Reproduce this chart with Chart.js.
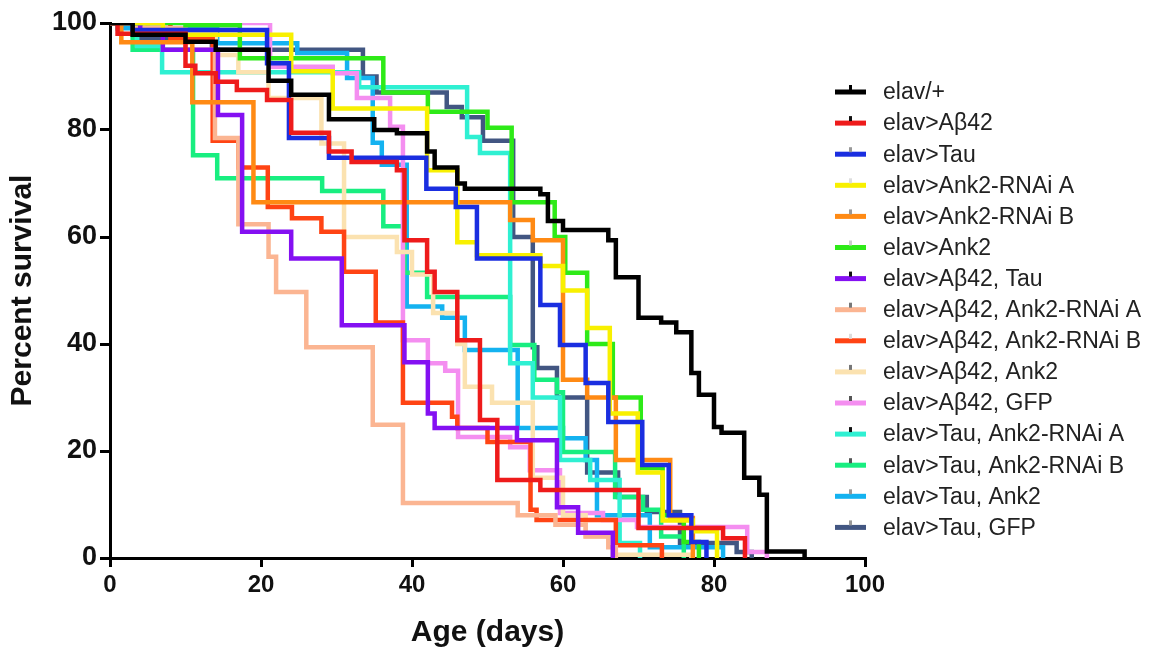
<!DOCTYPE html>
<html>
<head>
<meta charset="utf-8">
<title>Survival</title>
<script src="https://cdn.jsdelivr.net/npm/chart.js@4.4.1/dist/chart.umd.min.js"></script>
<style>
  body { margin: 0; background: #fff; }
  #wrap { width: 1154px; height: 653px; position: relative; }
</style>
</head>
<body>
<div id="wrap"><canvas id="survivalChart"></canvas></div>
<script>
// Kaplan-Meier curves: age (days) where survival drops, and % survival from that age on
const elavAge = [0, 3, 10, 14, 21, 24, 29, 35, 38, 42, 43, 46, 47, 57, 58, 60, 66, 67, 70, 73, 75, 77, 78, 80, 81, 84, 86, 87, 92];
const elavPct = [100, 97.8, 96.5, 95, 89.2, 86.6, 82, 80, 79.4, 76, 73, 70, 69, 68, 63, 61.3, 59.4, 52.5, 44.9, 44, 42.2, 34.6, 30.5, 24.5, 23.4, 15, 11.8, 1.2, 0];

const abAge = [0, 1, 10, 11.3, 14, 16.8, 20.8, 24, 29, 32, 38, 39, 42, 43, 46, 49, 51.3, 57, 70, 81.2, 84.1];
const abPct = [100, 98, 92, 90.6, 89, 87.5, 85.6, 79.5, 76, 74, 72.5, 59.4, 53.5, 49.7, 40.7, 25.8, 14.6, 12.7, 5.6, 3.7, 0];

const tauAge = [0, 3, 20.8, 23.7, 29, 41.9, 45.8, 48.6, 57, 59.6, 63, 66, 70.5, 74, 77, 79];
const tauPct = [100, 98.7, 92.5, 78.5, 74.8, 69, 65.6, 56, 47.3, 39.8, 32.7, 25.4, 17.4, 8, 3, 0];

const rnaiAAge = [0, 7, 24, 29.5, 42, 46, 48.6, 57, 60, 63.2, 66.2, 69.9, 73.2, 77.2, 80.4];
const rnaiAPct = [100, 97.8, 91, 84, 72.5, 59, 56.6, 54.6, 50, 43, 27, 16, 7, 5, 0];

const rnaiBAge = [0, 1.5, 10.9, 19, 53, 56, 60, 63.2, 67, 74.2, 77.2];
const rnaiBPct = [100, 96.4, 85.2, 66.5, 63.2, 59.4, 33.3, 30, 18.3, 7.5, 0];

const ank2Age = [0, 10, 17.2, 36.2, 42.1, 50, 53.2, 58.9, 60.3, 63.2, 66.6, 70.3, 73.2, 76, 78];
const ank2Pct = [100, 99.6, 93.4, 87, 83.4, 80.4, 66.5, 60, 53.3, 40, 30, 16.8, 8, 3, 0];

const abTauAge = [0, 4, 7, 14.3, 17.5, 24, 30.7, 39, 42.1, 43, 53.9, 59.2, 62, 66.6];
const abTauPct = [100, 98, 95, 82.8, 61, 56, 43.5, 36.6, 27, 24.3, 22, 9.5, 4.7, 0];

const abRnaiAAge = [0, 3, 10, 13.9, 17, 21, 22, 26, 34.8, 38.8, 54, 59, 63, 66, 67];
const abRnaiAPct = [100, 99, 95, 78.5, 62.4, 56.3, 49.7, 39.4, 24.9, 10.3, 8, 6.2, 4, 2, 0];

const abRnaiBAge = [0, 8, 13.6, 17, 20.9, 24.1, 28, 31, 35.2, 38.8, 45.3, 46, 50, 55.7, 56.5, 67, 73.1];
const abRnaiBPct = [100, 97, 78, 73, 65.6, 63.5, 61, 53.5, 44, 29, 26.4, 24.3, 21.7, 9, 7.1, 2.4, 0];

const abAnk2Age = [0, 5, 14, 17, 21, 28, 31, 38, 40, 42.8, 46, 47, 50.6, 56, 60, 63, 66.6, 77];
const abAnk2Pct = [100, 98, 94, 90.8, 86, 77.5, 60, 57.2, 53, 45.8, 40, 32, 29, 15, 8, 4, 0.6, 0];

const abGfpAge = [0, 21.2, 29.5, 32.7, 37.1, 38.8, 42.1, 44.4, 46.1, 53, 55.6, 59.6, 65.3, 69.8, 84.4, 87];
const abGfpPct = [100, 91.8, 90.6, 86, 80.6, 40.7, 36.4, 35, 22.6, 20.7, 16.4, 8.4, 7.1, 5.8, 1.1, 0];

const tauRnaiAAge = [0, 3.6, 6.9, 33, 47.3, 49, 53, 56, 59.6, 63.6, 67.5, 70.2];
const tauRnaiAPct = [100, 95.7, 90.8, 88, 78.7, 75.7, 36.4, 30, 18.3, 14.6, 2.8, 0];

const tauRnaiBAge = [0, 3, 11, 14.2, 28.1, 36.2, 39, 42, 53, 56.2, 59.2, 60, 66.9, 70.6, 73, 76];
const tauRnaiBPct = [100, 95, 75.3, 71, 68.6, 62, 53.3, 48.8, 39.8, 33.3, 31, 19.8, 11.4, 9, 4, 0];

const tauAnk2Age = [0, 1, 14.2, 24.8, 31.4, 34.8, 36, 39.3, 44, 47, 54, 60, 63, 64.5, 71.5, 81.2];
const tauAnk2Pct = [100, 99, 96.2, 94.4, 89.7, 77.6, 73.5, 47, 44.9, 38.9, 24.3, 22.4, 18.3, 8, 2, 0];

const tauGfpAge = [0, 4, 13.5, 33.5, 35.3, 44.6, 46.6, 49.4, 53.4, 56, 56.6, 59.2, 63.2, 67.3, 71.1, 75.5, 83, 85];
const tauGfpPct = [100, 97, 95, 90, 87, 84.3, 82.4, 78, 60, 39.4, 35.5, 30, 16, 11.4, 8.6, 2.8, 1.1, 0];

const xTicks = [0, 20, 40, 60, 80, 100];
const yTicks = [0, 20, 40, 60, 80, 100];

function toPoints(ages, pcts) {
    return ages.map((a, i) => ({ x: a, y: pcts[i] }));
}

function curve(label, ages, pcts, color, mark) {
    return {
        label: label,
        data: toPoints(ages, pcts),
        borderColor: color,
        backgroundColor: color,
        censorColor: mark,
        borderWidth: 4.5,
        stepped: true,
        pointRadius: 0,
        borderJoinStyle: 'miter',
        borderCapStyle: 'butt',
        fill: false
    };
}

const datasets = [
    curve('elav/+', elavAge, elavPct, '#000000', '#000000'),
    curve('elav>Aβ42', abAge, abPct, '#ee1b1b', '#111111'),
    curve('elav>Tau', tauAge, tauPct, '#1a2ee0', '#999999'),
    curve('elav>Ank2-RNAi A', rnaiAAge, rnaiAPct, '#f8f000', '#dddddd'),
    curve('elav>Ank2-RNAi B', rnaiBAge, rnaiBPct, '#ff8a14', '#999999'),
    curve('elav>Ank2', ank2Age, ank2Pct, '#2eea18', '#cccccc'),
    curve('elav>Aβ42, Tau', abTauAge, abTauPct, '#8410f2', '#111111'),
    curve('elav>Aβ42, Ank2-RNAi A', abRnaiAAge, abRnaiAPct, '#fbb592', '#777777'),
    curve('elav>Aβ42, Ank2-RNAi B', abRnaiBAge, abRnaiBPct, '#ff4414', '#dddddd'),
    curve('elav>Aβ42, Ank2', abAnk2Age, abAnk2Pct, '#fbe2b0', '#777777'),
    curve('elav>Aβ42, GFP', abGfpAge, abGfpPct, '#f48ef0', '#555555'),
    curve('elav>Tau, Ank2-RNAi A', tauRnaiAAge, tauRnaiAPct, '#2ff0d2', '#111111'),
    curve('elav>Tau, Ank2-RNAi B', tauRnaiBAge, tauRnaiBPct, '#18ee80', '#555555'),
    curve('elav>Tau, Ank2', tauAnk2Age, tauAnk2Pct, '#14b2f0', '#999999'),
    curve('elav>Tau, GFP', tauGfpAge, tauGfpPct, '#425682', '#999999')
];

// legend drawn at the right, like the original figure
const sideLegend = {
    id: 'sideLegend',
    afterDraw(chart, args, opts) {
        const ctx = chart.ctx;
        chart.data.datasets.forEach((ds, i) => {
            const y = opts.top + i * opts.gap;
            ctx.save();
            ctx.fillStyle = ds.borderColor;
            ctx.fillRect(opts.x, y - 2.5, 31, 5);
            ctx.fillStyle = ds.censorColor;
            ctx.fillRect(opts.x + 14, y - 7, 3, 5);
            ctx.fillStyle = '#222';
            ctx.font = '23px "Liberation Sans", Arial, sans-serif';
            ctx.textBaseline = 'middle';
            ctx.textAlign = 'left';
            ctx.fillText(ds.label, opts.x + 48, y + 1);
            ctx.restore();
        });
    }
};

Chart.defaults.font.family = '"Liberation Sans", Arial, sans-serif';
Chart.defaults.color = '#111';

const config = {
    type: 'line',
    data: { datasets: datasets },
    plugins: [sideLegend],
    options: {
        responsive: true,
        maintainAspectRatio: false,
        animation: false,
        layout: { padding: { top: 23, right: 289, bottom: 0, left: 0 } },
        plugins: {
            legend: { display: false },
            tooltip: { enabled: false },
            sideLegend: { x: 835, top: 92, gap: 31.1 }
        },
        scales: {
            x: {
                type: 'linear',
                min: 0,
                max: 100,
                afterBuildTicks: s => { s.ticks = xTicks.map(v => ({ value: v })); },
                afterFit: s => { s.height = 95; },
                ticks: { font: { size: 24, weight: 'bold' }, color: '#111', padding: 4, maxRotation: 0 },
                grid: { drawOnChartArea: false, drawTicks: true, tickLength: 9, color: '#000', lineWidth: 3 },
                border: { color: '#000', width: 3 },
                title: {
                    display: true,
                    text: 'Age (days)',
                    font: { size: 30, weight: 'bold' },
                    color: '#111',
                    padding: { top: 0, bottom: 2 }
                }
            },
            y: {
                min: 0,
                max: 100,
                afterBuildTicks: s => { s.ticks = yTicks.map(v => ({ value: v })); },
                afterFit: s => { s.width = 110; },
                ticks: { font: { size: 27, weight: 'bold' }, color: '#111', padding: 3 },
                grid: { drawOnChartArea: false, drawTicks: true, tickLength: 10, color: '#000', lineWidth: 3 },
                border: { color: '#000', width: 3 },
                title: {
                    display: true,
                    text: 'Percent survival',
                    font: { size: 30, weight: 'bold' },
                    color: '#111',
                    padding: { top: 5, bottom: 0 }
                }
            }
        }
    }
};

function initializeChart() {
    const ctx = document.getElementById('survivalChart').getContext('2d');
    new Chart(ctx, config);
}

document.addEventListener('DOMContentLoaded', initializeChart);
</script>
</body>
</html>
